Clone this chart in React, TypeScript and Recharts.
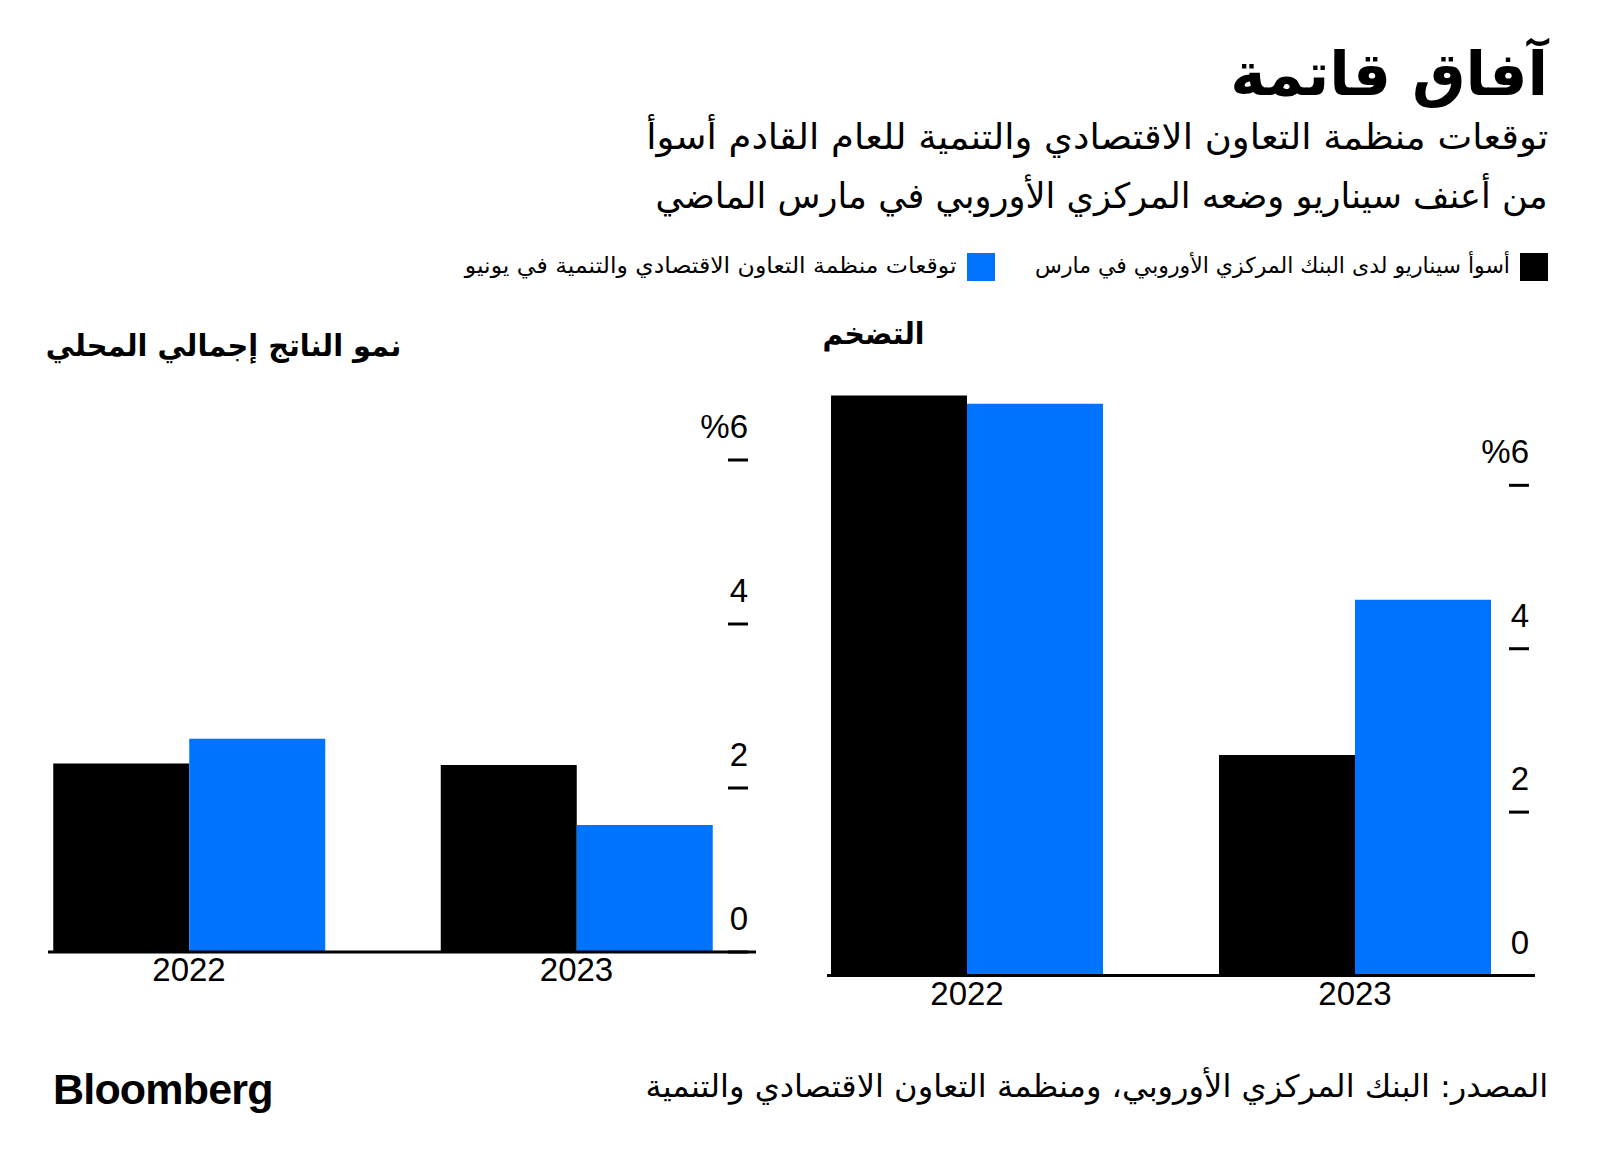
import React from 'react';
import { BarChart, Bar, XAxis, YAxis } from 'recharts';

const years = ['2022', '2023'];
const gdpEcbWorst = [2.3, 2.28];
const gdpOecdJune = [2.6, 1.55];
const inflEcbWorst = [7.1, 2.7];
const inflOecdJune = [7.0, 4.6];
const yTicks = [0, 2, 4, 6];
const yTickLabels = ['0', '2', '4', '%6'];

const title = 'آفاق قاتمة';
const subtitle1 = 'توقعات منظمة التعاون الاقتصادي والتنمية للعام القادم أسوأ';
const subtitle2 = 'من أعنف سيناريو وضعه المركزي الأوروبي في مارس الماضي';
const legendEcb = 'أسوأ سيناريو لدى البنك المركزي الأوروبي في مارس';
const legendOecd = 'توقعات منظمة التعاون الاقتصادي والتنمية في يونيو';
const gdpTitle = 'نمو الناتج إجمالي المحلي';
const inflTitle = 'التضخم';
const source = 'المصدر: البنك المركزي الأوروبي، ومنظمة التعاون الاقتصادي والتنمية';

const gdpData = years.map((y, i) => ({ year: y, ecb: gdpEcbWorst[i], oecd: gdpOecdJune[i] }));
const inflData = years.map((y, i) => ({ year: y, ecb: inflEcbWorst[i], oecd: inflOecdJune[i] }));

const BLUE = '#0073ff';
const AR = '"DejaVu Sans", sans-serif';
const NUM = '"Liberation Sans", Arial, sans-serif';

const makeYTick = (x1: number, x2: number) => (props: any) => {
  const { y, payload } = props;
  const idx = yTicks.indexOf(payload.value);
  return (
    <g>
      <line x1={x1} x2={x2} y1={y} y2={y} stroke="#000" strokeWidth={3} />
      <text x={x2} y={y - 22} textAnchor="end" fontSize={33} fontFamily={NUM} fill="#000">
        {yTickLabels[idx]}
      </text>
    </g>
  );
};

const makeXTick = (baseY: number) => (props: any) => {
  const { x, payload } = props;
  return (
    <text x={x} y={baseY} textAnchor="middle" fontSize={33} fontFamily={NUM} fill="#000">
      {payload.value}
    </text>
  );
};

type PanelProps = {
  data: any[];
  left: number;
  margin: { top: number; right: number; bottom: number; left: number };
  pad: { left: number; right: number };
  dash: [number, number];
  axisY: number;
};

const Panel = ({ data, left, margin, pad, dash, axisY }: PanelProps) => (
  <div style={{ position: 'absolute', left, top: 300 }}>
    <BarChart width={800} height={720} data={data} margin={margin} barGap={0} barCategoryGap={58}>
      <XAxis
        dataKey="year"
        height={30}
        interval={0}
        padding={pad}
        tickLine={false}
        axisLine={{ stroke: '#000', strokeWidth: 3 }}
        tick={makeXTick(axisY + 29)}
      />
      <YAxis
        orientation="right"
        width={10}
        domain={[0, 7.2]}
        ticks={yTicks}
        interval={0}
        axisLine={false}
        tickLine={false}
        tick={makeYTick(dash[0], dash[1])}
      />
      <Bar dataKey="ecb" fill="#000" isAnimationActive={false} />
      <Bar dataKey="oecd" fill={BLUE} isAnimationActive={false} />
    </BarChart>
  </div>
);

const txt = (s: React.CSSProperties, sx = 1): React.CSSProperties => ({
  position: 'absolute',
  direction: 'rtl',
  whiteSpace: 'nowrap',
  fontFamily: AR,
  color: '#000',
  lineHeight: 1,
  margin: 0,
  transform: `scaleX(${sx})`,
  transformOrigin: 'right center',
  ...s,
});

export default function App() {
  return (
    <div style={{ position: 'absolute', left: 0, top: 0, width: 1600, height: 1168, background: '#fff', overflow: 'hidden' }}>
      <div style={txt({ right: 52, top: 44, fontSize: 60, fontWeight: 'bold' })}>{title}</div>
      <div style={txt({ right: 52, top: 120, fontSize: 35 }, 1.056)}>{subtitle1}</div>
      <div style={txt({ right: 52, top: 179, fontSize: 35 }, 1.005)}>{subtitle2}</div>

      <div style={{ position: 'absolute', left: 1520, top: 253, width: 28, height: 28, background: '#000' }} />
      <div style={txt({ right: 1600 - 1510, top: 255, fontSize: 22 })}>{legendEcb}</div>
      <div style={{ position: 'absolute', left: 967, top: 253, width: 28, height: 28, background: BLUE }} />
      <div style={txt({ right: 1600 - 956, top: 255, fontSize: 22 }, 1.07)}>{legendOecd}</div>

      <div style={txt({ right: 1600 - 401, top: 331, fontSize: 30, fontWeight: 'bold' }, 0.96)}>{gdpTitle}</div>
      <div style={txt({ right: 1600 - 925, top: 319, fontSize: 30, fontWeight: 'bold' }, 0.94)}>{inflTitle}</div>

      <Panel
        data={gdpData}
        left={0}
        margin={{ top: 61.6, right: 34, bottom: 38, left: 48 }}
        pad={{ left: -52.75, right: -14.25 }}
        dash={[728, 748]}
        axisY={652}
      />
      <Panel
        data={inflData}
        left={800}
        margin={{ top: 87.3, right: 55, bottom: 14.5, left: 27 }}
        pad={{ left: -54, right: -14 }}
        dash={[709, 729]}
        axisY={675.5}
      />

      <div style={txt({ right: 52, top: 1071, fontSize: 31 }, 1.035)}>{source}</div>
      <div
        style={{
          position: 'absolute',
          left: 53,
          top: 1068,
          fontFamily: NUM,
          fontWeight: 'bold',
          fontSize: 43,
          letterSpacing: -0.8,
          lineHeight: 1,
          color: '#000',
        }}
      >
        Bloomberg
      </div>
    </div>
  );
}
